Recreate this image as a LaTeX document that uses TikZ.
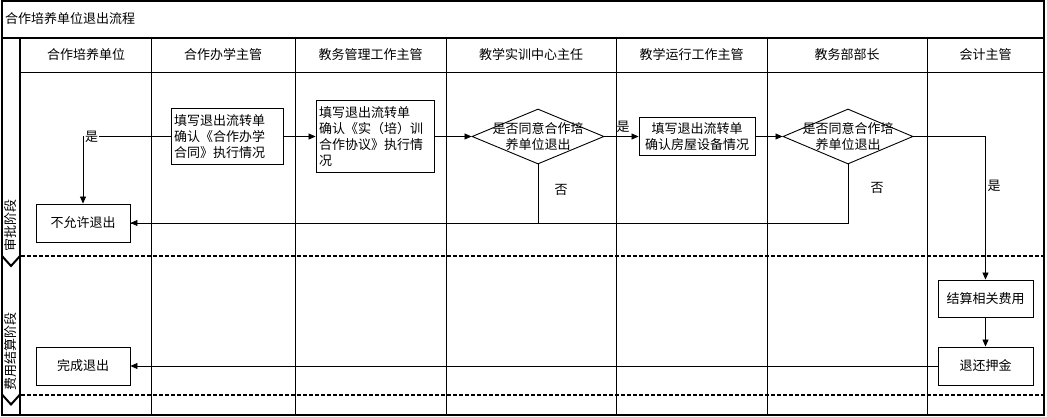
\documentclass[tikz,border=0pt]{standalone}
\usepackage{fontspec}
\setmainfont{Noto Sans CJK SC}
\usetikzlibrary{shapes.geometric,arrows.meta}
\begin{document}
\begin{tikzpicture}[x=1pt,y=-1pt,
  every node/.style={font=\fontsize{13pt}{16pt}\selectfont},
  frame/.style={draw, line width=1.2pt},
  grid/.style={draw, line width=0.8pt},
  sep/.style={draw, line width=2pt, dash pattern=on 3.5pt off 2.5pt},
  chev/.style={draw, line width=2pt},
  box/.style={draw, line width=0.9pt, inner sep=0pt, align=center},
  lbox/.style={draw, line width=0.9pt, inner xsep=3pt, inner ysep=2pt, align=left},
  dia/.style={draw, diamond, line width=0.9pt, inner sep=0pt, minimum width=132pt, minimum height=55pt},
  flow/.style={draw, line width=0.8pt, -{Triangle[length=7pt,width=6pt]}},
  plain/.style={draw, line width=0.8pt},
  lab/.style={inner sep=1pt},
  head/.style={inner sep=0pt}
]
\useasboundingbox (0,0) rectangle (1047,417);
% title
\draw[frame] (2,1) rectangle (1044,38);
\node[head, anchor=west] (title) at (5,19) {合作培养单位退出流程};
% pool
\draw[frame] (2,38) rectangle (1044,415);
\draw[frame] (20,38) -- (20,415);
\draw[grid] (20,72) -- (1044,72);
\foreach \xx in {151,295,446,616,767,927}
  \draw[grid] (\xx,38) -- (\xx,415);
% headers
\node[head] (h1) at (86,55) {合作培养单位};
\node[head] (h2) at (223,55) {合作办学主管};
\node[head] (h3) at (370.5,55) {教务管理工作主管};
\node[head] (h4) at (531,55) {教学实训中心主任};
\node[head] (h5) at (691.5,55) {教学运行工作主管};
\node[head] (h6) at (847,55) {教务部部长};
\node[head] (h7) at (985.5,55) {会计主管};
% phase separators
\draw[sep] (21,256) -- (1044,256);
\draw[sep] (21,394.5) -- (1044,394.5);
\draw[chev] (2,256) -- (11,266) -- (20,256);
\draw[chev] (2,394.5) -- (11,404.5) -- (20,394.5);
\node[head, rotate=90] (p1) at (11,225) {审批阶段};
\node[head, rotate=90] (p2) at (11,351) {费用结算阶段};
% nodes
\node[lbox, text width=106pt, minimum height=56pt] (b1) at (227,136.5)
  {填写退出流转单\\确认《合作办学\\合同》执行情况};
\node[lbox, text width=112pt, minimum height=72pt] (b2) at (375,136.5)
  {填写退出流转单\\确认《实（培）训\\合作协议》执行情\\况};
\node[dia] (d1) at (538,136.5) {};
\node[head, align=center] (d1t) at (d1) {是否同意合作培\\养单位退出};
\node[box, minimum width=116pt, minimum height=38pt] (b3) at (697,136.5)
  {填写退出流转单\\确认房屋设备情况};
\node[dia, minimum width=130pt] (d2) at (848,136.5) {};
\node[head, align=center] (d2t) at (d2) {是否同意合作培\\养单位退出};
\node[box, minimum width=94pt, minimum height=38pt] (nx) at (83,223) {不允许退出};
\node[box, minimum width=94pt, minimum height=38pt] (done) at (83,366) {完成退出};
\node[box, minimum width=95pt, minimum height=37pt] (settle) at (985.5,298.5) {结算相关费用};
\node[box, minimum width=95pt, minimum height=38pt] (refund) at (985.5,366) {退还押金};
% connectors
\draw[flow] (b1.west) -| (nx.north);
\node[lab, fill=white] (l1) at (91.5,136.5) {是};
\draw[flow] (b1.east) -- (b2.west);
\draw[flow] (b2.east) -- (d1.west);
\draw[flow] (d1.east) -- (b3.west);
\node[lab] (l2) at (623,127) {是};
\draw[flow] (d1.south) |- (nx.east);
\node[lab] (l3) at (561,190) {否};
\draw[flow] (b3.east) -- (d2.west);
\draw[plain] (d2.south) |- (nx.east);
\node[lab] (l4) at (877,188) {否};
\draw[flow] (d2.east) -| (settle.north);
\node[lab] (l5) at (994,186) {是};
\draw[flow] (settle.south) -- (refund.north);
\draw[flow] (refund.west) -- (done.east);
\end{tikzpicture}
\end{document}
